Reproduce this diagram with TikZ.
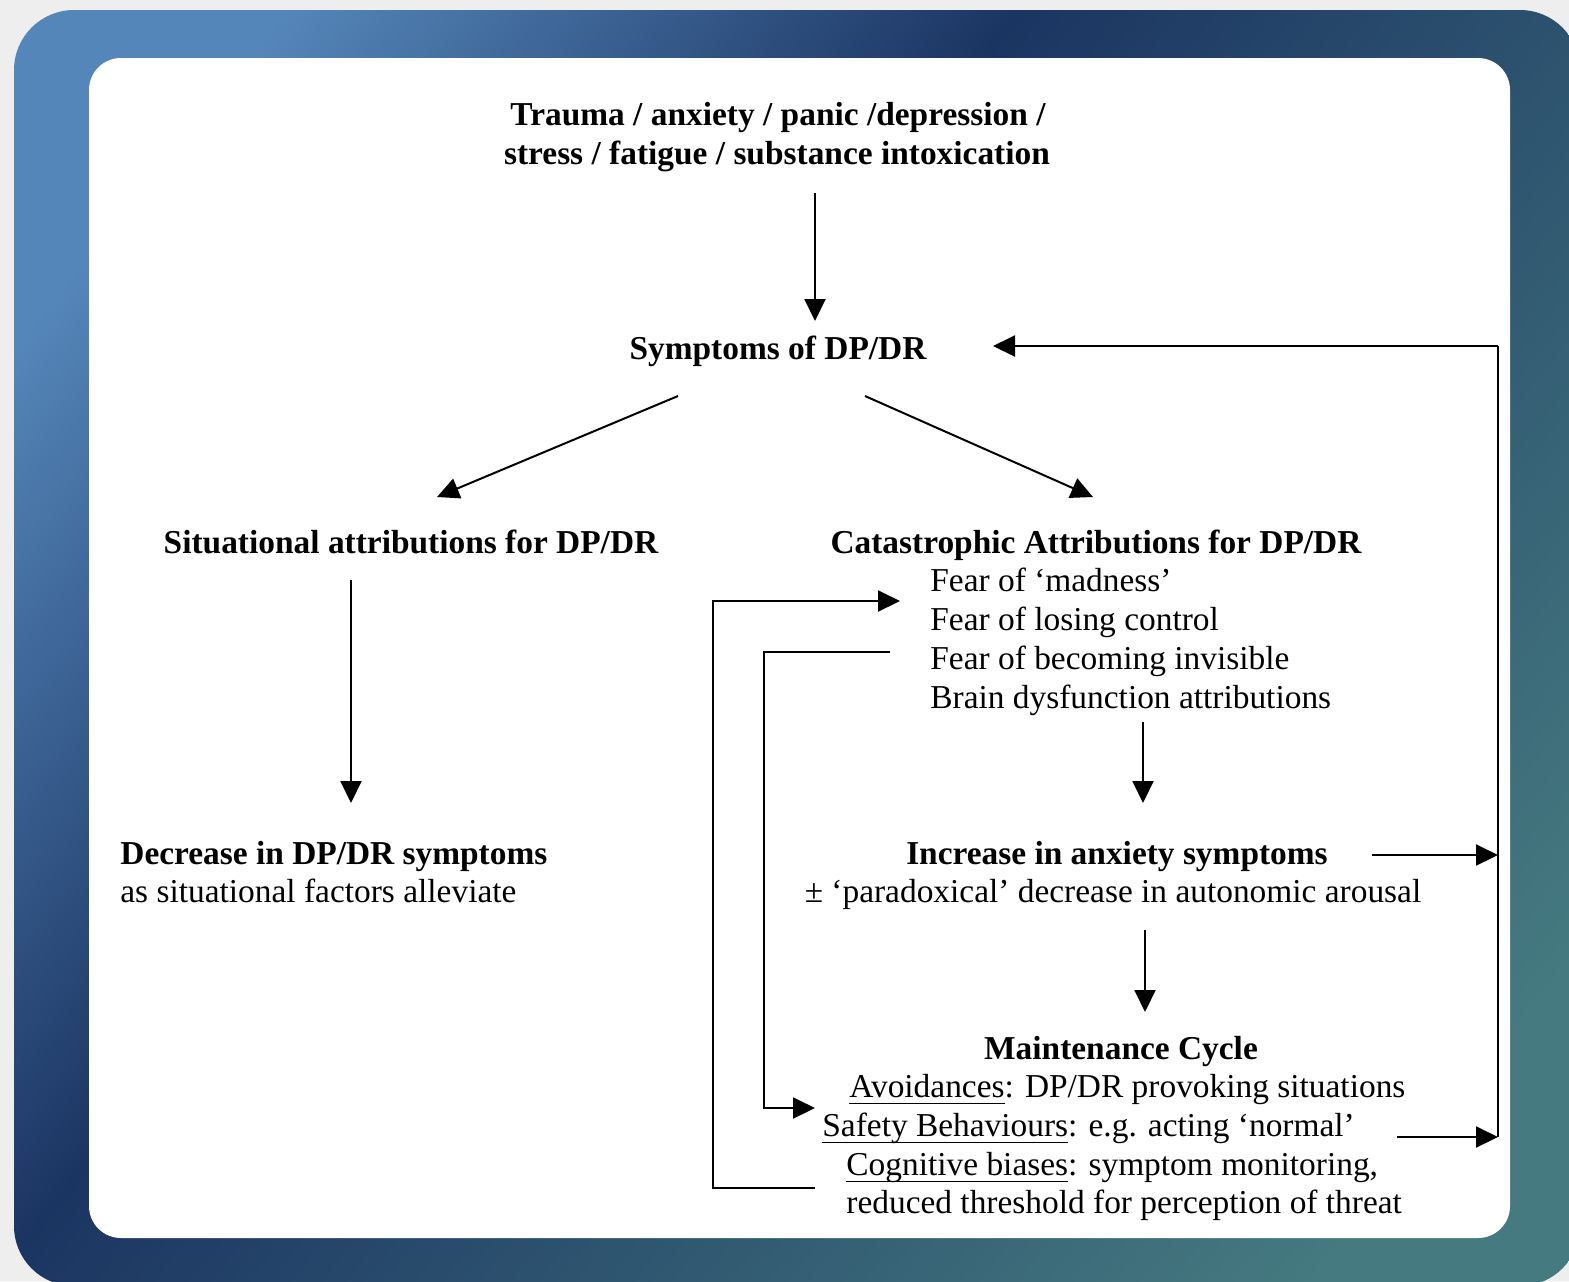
\documentclass[tikz,border=0pt]{standalone}
\usepackage{fontspec}
\setmainfont{Liberation Serif}
\usetikzlibrary{arrows.meta,calc}
\definecolor{bggray}{HTML}{EEEEEE}
\definecolor{fc1}{HTML}{5586BA}
\definecolor{fc2}{HTML}{1B3562}
\definecolor{fc3}{HTML}{457A80}
\pgfdeclarehorizontalshading{frameshade}{100bp}{color(0bp)=(fc1); color(22bp)=(fc1); color(42bp)=(fc2); color(78bp)=(fc3); color(100bp)=(fc3)}
\newcommand{\myul}[1]{\setbox0\hbox{#1}\rlap{\rule[-3.3pt]{\wd0}{0.7pt}}#1}
\tikzset{
  txt/.style={inner sep=0pt, font=\fontsize{16.7}{19.5}\selectfont},
  btxt/.style={inner sep=0pt, font=\fontsize{16.7}{19.5}\selectfont\bfseries},
  conn/.style={line width=1pt, black},
  arr/.style={conn, -{Triangle[length=11pt,width=10.5pt]}}
}
\begin{document}
\begin{tikzpicture}[x=0.5pt,y=-0.5pt]
\useasboundingbox (0,0) rectangle (1569,1281);
\fill[bggray] (0,0) rectangle (1569,1281);
\shade[shading=frameshade, shading angle=-39, rounded corners=30pt] (14,10) rectangle (1580,1286);
\fill[white, rounded corners=16pt] (89,58) rectangle (1510,1238);

% texts
\node[btxt, anchor=base] (t1) at (778,125.5) {Trauma / anxiety / panic /depression /};
\node[btxt, anchor=base] (t2) at (777,164.5) {stress / fatigue / substance intoxication};
\node[btxt, anchor=base] (sym) at (778,359.5) {Symptoms of DP/DR};
\node[btxt, anchor=base] (sit) at (411,553.5) {Situational attributions for DP/DR};
\node[btxt, anchor=base] (cat) at (1096,553.5) {Catastrophic Attributions for DP/DR};
\node[txt, anchor=base west] (f1) at (930,591.5) {Fear of ‘madness’};
\node[txt, anchor=base west] (f2) at (930,630.5) {Fear of losing control};
\node[txt, anchor=base west] (f3) at (930,669.5) {Fear of becoming invisible};
\node[txt, anchor=base west] (f4) at (930,708.5) {Brain dysfunction attributions};
\node[btxt, anchor=base west] (dec1) at (120,864.5) {Decrease in DP/DR symptoms};
\node[txt, anchor=base west] (dec2) at (120,902.5) {as situational factors alleviate};
\node[btxt, anchor=base] (inc1) at (1117,864.5) {Increase in anxiety symptoms};
\node[txt, anchor=base] (inc2) at (1113,902.5) {± ‘paradoxical’ decrease in autonomic arousal};
\node[btxt, anchor=base] (mc) at (1121,1059.5) {Maintenance Cycle};
\node[txt, anchor=base west] (m1) at (849,1097.5) {\myul{Avoidances}: DP/DR provoking situations};
\node[txt, anchor=base west] (m2) at (822,1136.5) {\myul{Safety Behaviours}: e.g. acting ‘normal’};
\node[txt, anchor=base west] (m3) at (846,1175.5) {\myul{Cognitive biases}: symptom monitoring,};
\node[txt, anchor=base west] (m4) at (846,1213.5) {reduced threshold for perception of threat};

% connector end points
\coordinate (a1s) at (815,193);
\coordinate (a1e) at (815,321);
\coordinate (rtop) at (1498,346);
\coordinate (rbot) at (1498,1137);
\coordinate (rmid) at (1498,855);
\coordinate (symR) at (993,346);
\coordinate (lA) at (678,396);
\coordinate (lB) at (437,497);
\coordinate (rA) at (865,396);
\coordinate (rB) at (1093,497);
\coordinate (sA) at (351,580);
\coordinate (sB) at (351,803);
\coordinate (cA) at (1143,722);
\coordinate (cB) at (1143,803);
\coordinate (iA) at (1145,930);
\coordinate (iB) at (1145,1012);
\coordinate (incR) at (1372,855);
\coordinate (mR) at (1397,1137);
\coordinate (l1a) at (815,1188);
\coordinate (l1b) at (713,1188);
\coordinate (l1c) at (713,601);
\coordinate (l1d) at (900,601);
\coordinate (l2a) at (890,652);
\coordinate (l2b) at (764,652);
\coordinate (l2c) at (764,1108);
\coordinate (l2d) at (815,1108);

% connectors
\draw[arr] (a1s) -- (a1e);
\draw[conn] (rbot) -- (rtop);
\draw[arr] (rtop) -- (symR);
\draw[arr] (lA) -- (lB);
\draw[arr] (rA) -- (rB);
\draw[arr] (sA) -- (sB);
\draw[arr] (cA) -- (cB);
\draw[arr] (iA) -- (iB);
\draw[arr] (incR) -- (rmid);
\draw[arr] (mR) -- (rbot);
\draw[arr] (l1a) -- (l1b) -- (l1c) -- (l1d);
\draw[arr] (l2a) -- (l2b) -- (l2c) -- (l2d);
\end{tikzpicture}
\end{document}
